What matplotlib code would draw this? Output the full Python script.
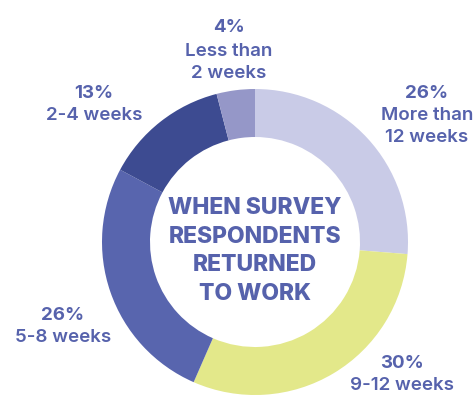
import matplotlib.pyplot as plt

# 数据
labels = ['More than\n12 weeks', '9-12 weeks', '5-8 weeks', '2-4 weeks', 'Less than\n2 weeks']
values = [26, 30, 26, 13, 4]
pct_text = ['26%', '30%', '26%', '13%', '4%']
colors = ['#C9CBE7', '#E3E88A', '#5865AE', '#3D4B91', '#9597C8']
title = 'WHEN SURVEY\nRESPONDENTS\nRETURNED\nTO WORK'

txt_color = '#5662AC'
plt.rcParams['font.family'] = ['Inter', 'DejaVu Sans']

W, H = 477, 395
fig = plt.figure(figsize=(W / 100, H / 100), dpi=100)
ax = fig.add_axes([0, 0, 1, 1])

cx, cy, r = 255, H - 242, 153
ax.pie(values, colors=colors, startangle=90, counterclock=False,
       center=(cx, cy), radius=r, wedgeprops=dict(width=48, linewidth=0))
ax.set_xlim(0, W)
ax.set_ylim(0, H)
ax.set_aspect('equal')
ax.axis('off')

# 标签位置（像素，从上往下）
pos = [(427, 93), (402, 363), (63, 315), (94, 93), (229, 28)]
for (x, y), p, lab in zip(pos, pct_text, labels):
    ax.text(x, H - y, p, ha='center', va='center', fontsize=13.5,
            fontweight='bold', color=txt_color)
    for i, line in enumerate(lab.split('\n')):
        ax.text(x, H - y - 23 - 22 * i, line, ha='center', va='center',
                fontsize=13.5, fontweight='semibold', color=txt_color)

ax.text(cx, H - 251, title, ha='center', va='center', fontsize=16.5,
        fontweight='heavy', color=txt_color, linespacing=1.4)

fig.savefig('out.png', dpi=100)
